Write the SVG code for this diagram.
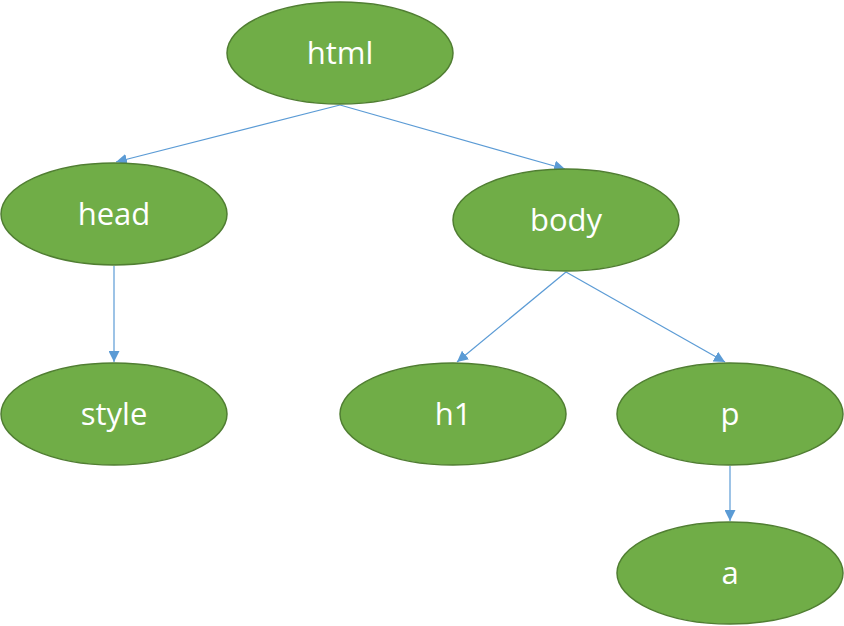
<svg xmlns="http://www.w3.org/2000/svg" width="844" height="626" viewBox="0 0 844 626">
  <style>
    .node ellipse { fill: #70AD47; stroke: #507E32; stroke-width: 1.5; }
    .node text { fill: #FFFFFF; font-family: "Open Sans", "Liberation Sans", sans-serif; font-size: 31px; text-anchor: middle; }
    .edge { stroke: #5B9BD5; stroke-width: 1.2; fill: none; marker-end: url(#arrow); }
  </style>
  <defs>
    <marker id="arrow" viewBox="0 0 10 10" refX="10" refY="5" markerWidth="11" markerHeight="11" markerUnits="userSpaceOnUse" orient="auto">
      <path d="M0,0 L10,5 L0,10 z" fill="#5B9BD5"/>
    </marker>
  </defs>
  <rect width="844" height="626" fill="#FFFFFF"/>

  <g id="connectors">
    <line class="edge" x1="340" y1="105" x2="116" y2="162"/>
    <line class="edge" x1="340" y1="105" x2="565" y2="169"/>
    <line class="edge" x1="114" y1="266" x2="114" y2="362"/>
    <line class="edge" x1="566" y1="272" x2="457" y2="362"/>
    <line class="edge" x1="566" y1="272" x2="725" y2="362"/>
    <line class="edge" x1="730" y1="466" x2="730" y2="521"/>
  </g>

  <g id="html" class="node">
    <ellipse cx="340" cy="53" rx="113" ry="51"/>
    <text x="340" y="64">html</text>
  </g>
  <g id="head" class="node">
    <ellipse cx="114" cy="214" rx="113" ry="51"/>
    <text x="114" y="225">head</text>
  </g>
  <g id="body" class="node">
    <ellipse cx="566" cy="220" rx="113" ry="51"/>
    <text x="566" y="231">body</text>
  </g>
  <g id="style" class="node">
    <ellipse cx="114" cy="414" rx="113" ry="51"/>
    <text x="114" y="425">style</text>
  </g>
  <g id="h1" class="node">
    <ellipse cx="453" cy="414" rx="113" ry="51"/>
    <text x="453" y="425">h1</text>
  </g>
  <g id="p" class="node">
    <ellipse cx="730" cy="414" rx="113" ry="51"/>
    <text x="730" y="425">p</text>
  </g>
  <g id="a" class="node">
    <ellipse cx="730" cy="573" rx="113" ry="51"/>
    <text x="730" y="584">a</text>
  </g>
</svg>
